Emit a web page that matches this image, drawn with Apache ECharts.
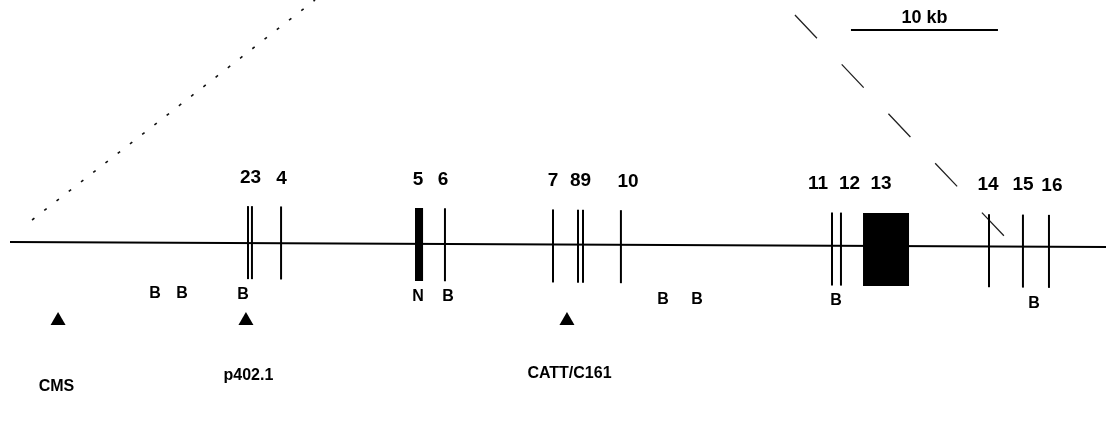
<!DOCTYPE html>
<html><head><meta charset="utf-8">
<script src="https://cdn.jsdelivr.net/npm/echarts@6/dist/echarts.min.js"></script>
<style>html,body{margin:0;padding:0;background:#fff}#c{width:1116px;height:430px}</style>
</head><body><div id="c"></div>
<script>
// ---- data (positions in kb along the gene map) ----
const mapLengthKb = 74.56;
const scaleBarKb = [57.21, 67.21];
const scaleBarText = '10 kb';
const exonStartKb = [16.19, 16.46, 18.44, 27.55, 29.59, 36.94, 38.64, 38.98, 41.56, 55.92, 56.53, 58.03, 66.60, 68.91, 70.68];
const exonEndKb   = [16.19, 16.46, 18.44, 28.10, 29.59, 36.94, 38.64, 38.98, 41.56, 55.92, 56.53, 61.16, 66.60, 68.91, 70.68];
const exonLabels  = ['23', '4', '5', '6', '7', '89', '10', '11', '12', '13', '14', '15', '16'];
const exonLabelKb = [16.36, 18.47, 27.76, 29.46, 36.94, 38.81, 42.04, 54.97, 57.11, 59.25, 66.53, 68.91, 70.88];
const siteLetters = ['B', 'B', 'B', 'N', 'B', 'B', 'B', 'B', 'B'];
const siteKb      = [9.86, 11.70, 15.85, 27.76, 29.80, 44.42, 46.73, 56.19, 69.66];
const probeNames  = ['CMS', 'p402.1', 'CATT/C161'];
const probeKb     = [3.27, 16.05, 37.89];
const probeLabelKb = [3.16, 16.22, 38.06];
const guideLeftKb  = [1.50, 20.75];
const guideRightKb = [53.40, 67.69];

// ---- layout / style (vertical layout units = px); the scanned figure is slightly tilted ----
const L = {
  line: [242, 247], exonCenter: [240, 252], exonHalf: 36.5, exonLabel: [176, 186], site: [292, 304],
  probeY: 319, probeLabelY: [387, 376, 374], scaleY: 30, scaleLabelY: 18,
  guideLeftY: [220, 0], guideRightY: [15, 237]
};
const FONT = '"Liberation Sans", Arial, Helvetica, sans-serif';
function tilt(pair, kb) { return pair[0] + (pair[1] - pair[0]) * kb / mapLengthKb; }

const chart = echarts.init(document.getElementById('c'), null, { renderer: 'canvas' });

function textEl(x, y, t, size) {
  return { type: 'text', style: { x: x, y: y, text: t, fill: '#000', font: 'bold ' + size + 'px ' + FONT,
    align: 'center', verticalAlign: 'middle', textAlign: 'center', textVerticalAlign: 'middle' } };
}

const option = {
  animation: false,
  backgroundColor: '#fff',
  grid: { left: 10, right: 10, top: 0, bottom: 0 },
  xAxis: { type: 'value', min: 0, max: mapLengthKb, show: false },
  yAxis: { type: 'value', min: 0, max: 430, inverse: true, show: false },
  series: [
    { // guide (zoom) lines
      type: 'custom', silent: true,
      data: [[guideLeftKb[0], guideLeftKb[1], 0], [guideRightKb[0], guideRightKb[1], 1]],
      renderItem: function (params, api) {
        const k = api.value(2);
        const ys = k === 0 ? L.guideLeftY : L.guideRightY;
        const p0 = api.coord([api.value(0), ys[0]]);
        const p1 = api.coord([api.value(1), ys[1]]);
        return { type: 'line', shape: { x1: p0[0], y1: p0[1], x2: p1[0], y2: p1[1] },
          style: { stroke: k === 0 ? '#111' : '#222', lineWidth: k === 0 ? 1.6 : 1.3,
            lineDash: k === 0 ? [3, 12.5] : [32, 36] } };
      }
    },
    { // main genomic line
      type: 'custom', silent: true, data: [[0, mapLengthKb]],
      renderItem: function (params, api) {
        const p0 = api.coord([api.value(0), tilt(L.line, api.value(0))]);
        const p1 = api.coord([api.value(1), tilt(L.line, api.value(1))]);
        return { type: 'line', shape: { x1: p0[0], y1: p0[1], x2: p1[0], y2: p1[1] },
          style: { stroke: '#000', lineWidth: 2 } };
      }
    },
    { // exons
      type: 'custom', silent: true,
      data: exonStartKb.map(function (s, i) { return [s, exonEndKb[i]]; }),
      renderItem: function (params, api) {
        const s = api.value(0), e = api.value(1), m = (s + e) / 2;
        const c = tilt(L.exonCenter, m);
        const a = api.coord([s, c - L.exonHalf]);
        const b = api.coord([e, c + L.exonHalf]);
        let w = b[0] - a[0], x = a[0];
        if (w < 2) { x = a[0] - 1; w = 2; }
        return { type: 'rect', shape: { x: x, y: a[1], width: w, height: b[1] - a[1] },
          style: { fill: '#000' } };
      }
    },
    { // exon numbers
      type: 'custom', silent: true,
      data: exonLabelKb.map(function (k, i) { return [k, i]; }),
      renderItem: function (params, api) {
        const k = api.value(0);
        const p = api.coord([k, tilt(L.exonLabel, k)]);
        return textEl(p[0], p[1], exonLabels[api.value(1)], 19);
      }
    },
    { // restriction sites
      type: 'custom', silent: true,
      data: siteKb.map(function (k, i) { return [k, i]; }),
      renderItem: function (params, api) {
        const k = api.value(0);
        const p = api.coord([k, tilt(L.site, k)]);
        return textEl(p[0], p[1], siteLetters[api.value(1)], 16);
      }
    },
    { // probe triangles
      type: 'custom', silent: true,
      data: probeKb.map(function (k, i) { return [k, i]; }),
      renderItem: function (params, api) {
        const p = api.coord([api.value(0), L.probeY]);
        return { type: 'polygon', shape: { points: [[p[0], p[1] - 7], [p[0] - 7.5, p[1] + 6], [p[0] + 7.5, p[1] + 6]] },
          style: { fill: '#000' } };
      }
    },
    { // probe names
      type: 'custom', silent: true,
      data: probeLabelKb.map(function (k, i) { return [k, i]; }),
      renderItem: function (params, api) {
        const i = api.value(1);
        const p = api.coord([api.value(0), L.probeLabelY[i]]);
        return textEl(p[0], p[1], probeNames[i], 16);
      }
    },
    { // scale bar
      type: 'custom', silent: true, data: [[scaleBarKb[0], scaleBarKb[1]]],
      renderItem: function (params, api) {
        const p0 = api.coord([api.value(0), L.scaleY]);
        const p1 = api.coord([api.value(1), L.scaleY]);
        const pt = api.coord([(api.value(0) + api.value(1)) / 2, L.scaleLabelY]);
        return { type: 'group', children: [
          { type: 'line', shape: { x1: p0[0], y1: p0[1], x2: p1[0], y2: p1[1] }, style: { stroke: '#000', lineWidth: 2 } },
          textEl(pt[0], pt[1], scaleBarText, 18)
        ] };
      }
    }
  ]
};
chart.setOption(option);
</script>
</body></html>
